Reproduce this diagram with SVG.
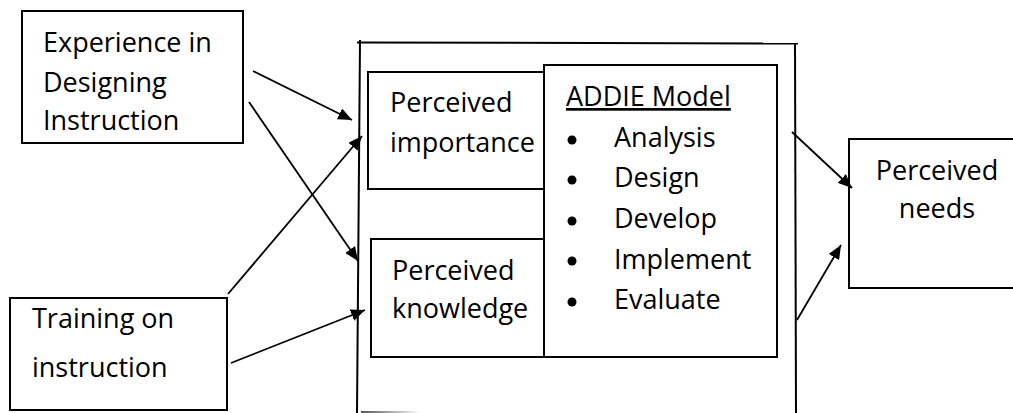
<svg xmlns="http://www.w3.org/2000/svg" width="1013" height="413" viewBox="0 0 1013 413">
<defs>
<style>
.box{fill:#fff;stroke:#000;stroke-width:2}
.t{font-family:"Open Sans","Noto Sans",sans-serif;font-size:27px;fill:#000}
.ln{stroke:#000;stroke-width:1.8;fill:none;marker-end:url(#ah)}
.fr{stroke:#000;stroke-width:2;fill:none}
</style>
<marker id="ah" viewBox="0 0 10 10" refX="10" refY="5" markerWidth="14" markerHeight="12" markerUnits="userSpaceOnUse" orient="auto" preserveAspectRatio="none"><path d="M0,0 L10,5 L0,10 z" fill="#000"/></marker>
<linearGradient id="fade" x1="0" x2="1" y1="0" y2="0"><stop offset="0" stop-color="#555"/><stop offset="1" stop-color="#fff"/></linearGradient>
</defs>
<rect width="1013" height="413" fill="#fff"/>
<g id="frame">
<line class="fr" x1="357" y1="42.5" x2="798" y2="43.5"/>
<line class="fr" x1="360" y1="40" x2="357" y2="413"/>
<line class="fr" x1="795" y1="43" x2="796" y2="413"/>
<rect x="361" y="411" width="60" height="2" fill="url(#fade)"/>
</g>
<g id="n_experience">
<rect class="box" x="22" y="11" width="221" height="132"/>
<text class="t" x="43" y="52">Experience in</text>
<text class="t" x="43" y="92">Designing</text>
<text class="t" x="43" y="130">Instruction</text>
</g>
<g id="n_training">
<rect class="box" x="10" y="298" width="217" height="112"/>
<text class="t" x="32" y="328">Training on</text>
<text class="t" x="32" y="377">instruction</text>
</g>
<g id="n_importance">
<rect class="box" x="368" y="72" width="190" height="117"/>
<text class="t" x="390" y="112">Perceived</text>
<text class="t" x="390" y="152">importance</text>
</g>
<g id="n_knowledge">
<rect class="box" x="371" y="239" width="180" height="118"/>
<text class="t" x="392" y="280">Perceived</text>
<text class="t" x="392" y="318">knowledge</text>
</g>
<g id="n_addie">
<rect class="box" x="544" y="65" width="233" height="292"/>
<text class="t" x="566" y="106" text-decoration="underline">ADDIE Model</text>
<g fill="#000">
<circle cx="572" cy="140" r="4.5"/>
<circle cx="572" cy="180" r="4.5"/>
<circle cx="572" cy="221" r="4.5"/>
<circle cx="572" cy="261" r="4.5"/>
<circle cx="572" cy="302" r="4.5"/>
</g>
<text class="t" x="614" y="147">Analysis</text>
<text class="t" x="614" y="187">Design</text>
<text class="t" x="614" y="228">Develop</text>
<text class="t" x="614" y="269">Implement</text>
<text class="t" x="614" y="309">Evaluate</text>
</g>
<g id="n_needs">
<rect class="box" x="849" y="139" width="170" height="149"/>
<text class="t" x="937" y="180" text-anchor="middle">Perceived</text>
<text class="t" x="937" y="218" text-anchor="middle">needs</text>
</g>
<g id="connectors">
<line class="ln" x1="253" y1="71" x2="352" y2="120"/>
<line class="ln" x1="249" y1="102" x2="358" y2="261"/>
<line class="ln" x1="228" y1="294" x2="362" y2="136"/>
<line class="ln" x1="231" y1="363" x2="365" y2="310"/>
<line class="ln" x1="792" y1="132" x2="852" y2="188"/>
<line class="ln" x1="797" y1="320" x2="841" y2="245"/>
</g>
</svg>
